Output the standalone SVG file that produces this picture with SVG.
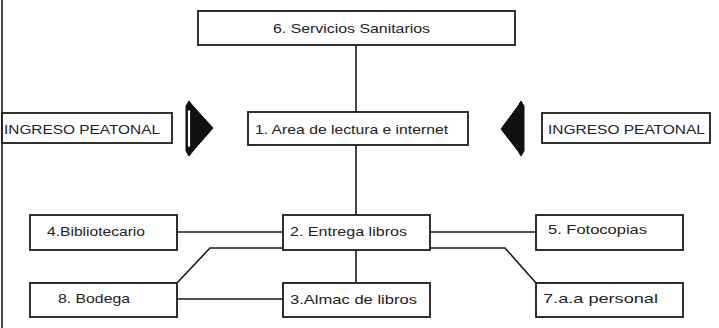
<svg xmlns="http://www.w3.org/2000/svg" width="719" height="328" viewBox="0 0 719 328">
<style>
.box{fill:#fff;stroke:#1a1a1a;stroke-width:1.8}
.ln{fill:none;stroke:#1a1a1a;stroke-width:1.6}
.t{font-family:"Liberation Sans",Arial,sans-serif;font-size:13px;fill:#222;dominant-baseline:central}
.arr{fill:#111;stroke:#111;stroke-width:1}
</style>
<rect width="719" height="328" fill="#fff"/>
<line x1="2" y1="0" x2="2" y2="328" class="ln"/>
<g id="connectors">
<line x1="356" y1="45" x2="356" y2="112" class="ln"/>
<line x1="356" y1="145" x2="356" y2="215" class="ln"/>
<line x1="356" y1="250" x2="356" y2="283" class="ln"/>
<line x1="177" y1="232" x2="283" y2="232" class="ln"/>
<line x1="430" y1="232" x2="536" y2="232" class="ln"/>
<line x1="177" y1="299" x2="283" y2="299" class="ln"/>
<polyline points="177,283 210,248 505,248 536,283" class="ln"/>
</g>
<g id="n6"><rect x="198" y="11" width="317" height="34" class="box"/><text x="273" y="28" class="t" textLength="157" lengthAdjust="spacingAndGlyphs">6. Servicios Sanitarios</text></g>
<g id="n1"><rect x="248" y="112" width="220" height="33" class="box"/><text x="255" y="129" class="t" textLength="193" lengthAdjust="spacingAndGlyphs">1. Area de lectura e internet</text></g>
<g id="ingresoL"><rect x="2" y="113" width="170" height="30" class="box"/><text x="4" y="129" class="t" textLength="156" lengthAdjust="spacingAndGlyphs">INGRESO PEATONAL</text></g>
<g id="arrowL"><polygon points="186,106 189,101 193,106 213,128 193,151 189,156 186,151" class="arr"/><rect x="187.5" y="110" width="3" height="37" fill="#fff" stroke="#111" stroke-width="0.8"/></g>
<g id="ingresoR"><rect x="542" y="113" width="168" height="30" class="box"/><text x="548" y="129" class="t" textLength="157" lengthAdjust="spacingAndGlyphs">INGRESO PEATONAL</text></g>
<g id="arrowR"><polygon points="524,106 521,101 518,106 501,129 518,151 521,156 524,151" class="arr"/></g>
<g id="n4"><rect x="30" y="215" width="147" height="35" class="box"/><text x="47" y="231" class="t" textLength="98" lengthAdjust="spacingAndGlyphs">4.Bibliotecario</text></g>
<g id="n2"><rect x="283" y="215" width="147" height="35" class="box"/><text x="290" y="231" class="t" textLength="117" lengthAdjust="spacingAndGlyphs">2. Entrega libros</text></g>
<g id="n5"><rect x="536" y="215" width="147" height="35" class="box"/><text x="548" y="229" class="t" textLength="99" lengthAdjust="spacingAndGlyphs">5. Fotocopias</text></g>
<g id="n8"><rect x="30" y="283" width="147" height="34" class="box"/><text x="58" y="298" class="t" textLength="72" lengthAdjust="spacingAndGlyphs">8. Bodega</text></g>
<g id="n3"><rect x="283" y="283" width="147" height="34" class="box"/><text x="290" y="299" class="t" textLength="127" lengthAdjust="spacingAndGlyphs">3.Almac de libros</text></g>
<g id="n7"><rect x="536" y="283" width="147" height="34" class="box"/><text x="543" y="298" class="t" textLength="115" lengthAdjust="spacingAndGlyphs">7.a.a personal</text></g>
</svg>
